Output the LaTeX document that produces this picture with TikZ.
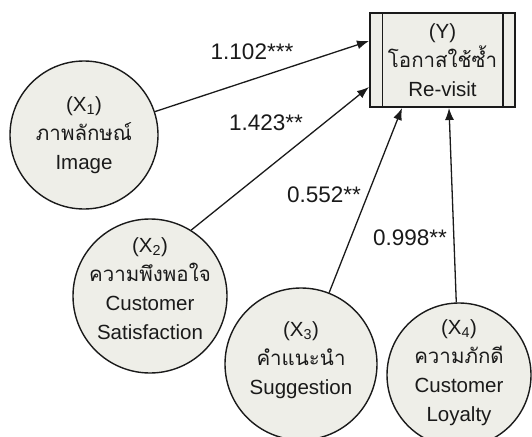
\documentclass[tikz,border=0pt]{standalone}
\usepackage{fontspec}
\setmainfont{Liberation Sans}
\newfontfamily\thaifont[Script=Thai]{Loma}
\usetikzlibrary{arrows.meta}
\definecolor{fillc}{HTML}{EEEEE8}
\definecolor{inkc}{HTML}{1A1A1A}
\begin{document}
\begin{tikzpicture}[x=1pt,y=-1pt,
  circ/.style={circle,draw=inkc,line width=1.4pt,fill=fillc,inner sep=0pt},
  ctext/.style={align=center,inner sep=0pt,text=inkc,font=\fontsize{20.5}{29}\selectfont},
  lbl/.style={inner sep=0pt,text=inkc,font=\fontsize{22.5}{25}\selectfont},
  conn/.style={draw=inkc,line width=1.3pt,-{Latex[length=12pt,width=9pt]}}
]
\useasboundingbox (0,0) rectangle (532,436);
\fill[white] (0,0) rectangle (532,436);
% box
\node[draw=inkc,line width=1.5pt,fill=fillc,minimum width=145pt,minimum height=94pt,inner sep=0pt] (y) at (442.5,60) {};
\draw[inkc,line width=1.5pt] ([xshift=13pt]y.north west) -- ([xshift=13pt]y.south west);
\draw[inkc,line width=1.5pt] ([xshift=-13pt]y.north east) -- ([xshift=-13pt]y.south east);
\node[ctext] (ytext) at (442.5,60) {(Y)\\{\thaifont โอกาสใช้ซ้ำ}\\Re-visit};
% circles
\node[circ,minimum size=148pt] (x1) at (84,135) {};
\node[circ,minimum size=154pt] (x2) at (150,296) {};
\node[circ,minimum size=152pt] (x3) at (301,364) {};
\node[circ,minimum size=144pt] (x4) at (459,375) {};
\node[ctext] (x1t) at (84,135) {(X\textsubscript{1})\\{\thaifont ภาพลักษณ์}\\Image};
\node[ctext] (x2t) at (150,289) {(X\textsubscript{2})\\{\thaifont ความพึงพอใจ}\\Customer\\Satisfaction};
\node[ctext] (x3t) at (301,360) {(X\textsubscript{3})\\{\thaifont คำแนะนำ}\\Suggestion};
\node[ctext] (x4t) at (459,373) {(X\textsubscript{4})\\{\thaifont ความภักดี}\\Customer\\Loyalty};
% targets
\coordinate (t1) at (369,41);
\coordinate (t2) at (369,87);
\coordinate (t3) at (402,108);
\coordinate (t4) at (449,108);
\draw[conn] (x1) -- (t1);
\draw[conn] (x2.58) -- (t2);
\draw[conn] (x3) -- (t3);
\draw[conn] (x4) -- (t4);
% labels
\node[lbl] (l1) at (252,52) {1.102***};
\node[lbl] (l2) at (266,123) {1.423**};
\node[lbl] (l3) at (324,195) {0.552**};
\node[lbl] (l4) at (410,238) {0.998**};
\end{tikzpicture}
\end{document}
